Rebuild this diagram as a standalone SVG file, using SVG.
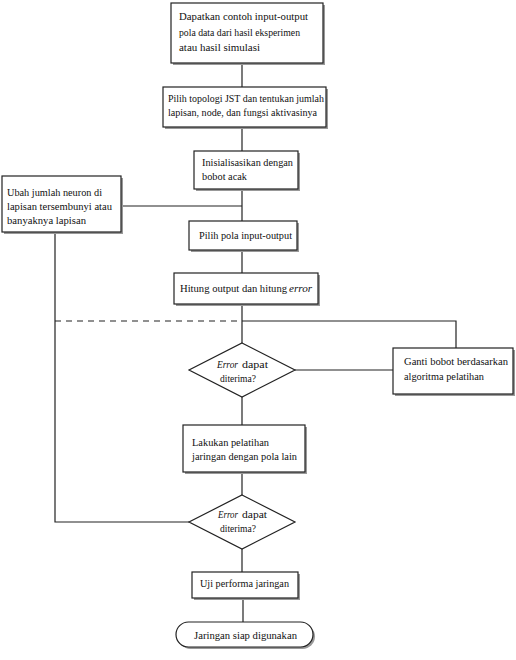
<svg xmlns="http://www.w3.org/2000/svg" width="516" height="660" viewBox="0 0 516 660">
<style>
.box{fill:#fff;stroke:#222;stroke-width:1.2}
.sh{fill:#999}
.ln{fill:none;stroke:#222;stroke-width:1.2}
text{font-family:"Liberation Serif","Times New Roman",serif;font-size:11px;fill:#111}
.i{font-style:italic}
</style>
<rect width="516" height="660" fill="#fff"/>
<g id="connectors">
<line class="ln" x1="242" y1="63" x2="242" y2="87"/>
<line class="ln" x1="242" y1="127" x2="242" y2="151"/>
<line class="ln" x1="242" y1="189" x2="242" y2="221"/>
<line class="ln" x1="121" y1="206" x2="242" y2="206"/>
<line class="ln" x1="242" y1="250" x2="242" y2="273"/>
<line class="ln" x1="242" y1="304" x2="242" y2="343"/>
<line class="ln" x1="55" y1="321" x2="242" y2="321" stroke-dasharray="6,5"/>
<polyline class="ln" points="242,321 456,321 456,348"/>
<line class="ln" x1="295" y1="370" x2="393" y2="370" stroke-width="2"/>
<line class="ln" x1="242" y1="397" x2="242" y2="425"/>
<line class="ln" x1="242" y1="472" x2="242" y2="495"/>
<polyline class="ln" points="55,232 55,522 189,522"/>
<line class="ln" x1="242" y1="549" x2="242" y2="572"/>
<line class="ln" x1="243" y1="598" x2="243" y2="622"/>
</g>
<g id="n1">
<rect class="sh" x="173" y="5" width="152" height="60"/>
<rect class="box" x="171" y="3" width="152" height="60"/>
<text x="179" y="20" textLength="129" lengthAdjust="spacingAndGlyphs">Dapatkan contoh input-output</text>
<text x="179" y="36" textLength="121" lengthAdjust="spacingAndGlyphs">pola data dari hasil eksperimen</text>
<text x="179" y="51" textLength="81" lengthAdjust="spacingAndGlyphs">atau hasil simulasi</text>
</g>
<g id="n2">
<rect class="sh" x="165" y="89" width="163" height="40"/>
<rect class="box" x="163" y="87" width="163" height="40"/>
<text x="168" y="102" textLength="156" lengthAdjust="spacingAndGlyphs">Pilih topologi JST dan tentukan jumlah</text>
<text x="168" y="116" textLength="149" lengthAdjust="spacingAndGlyphs">lapisan, node, dan fungsi aktivasinya</text>
</g>
<g id="n3">
<rect class="sh" x="196" y="153" width="104" height="38"/>
<rect class="box" x="194" y="151" width="104" height="38"/>
<text x="202" y="166" textLength="91" lengthAdjust="spacingAndGlyphs">Inisialisasikan dengan</text>
<text x="202" y="180" textLength="45" lengthAdjust="spacingAndGlyphs">bobot acak</text>
</g>
<g id="n4">
<rect class="sh" x="4" y="178" width="119" height="56"/>
<rect class="box" x="2" y="176" width="119" height="56"/>
<text x="7" y="196" textLength="95" lengthAdjust="spacingAndGlyphs">Ubah jumlah neuron di</text>
<text x="7" y="210" textLength="105" lengthAdjust="spacingAndGlyphs">lapisan tersembunyi atau</text>
<text x="7" y="224" textLength="79" lengthAdjust="spacingAndGlyphs">banyaknya lapisan</text>
</g>
<g id="n5">
<rect class="sh" x="191" y="223" width="108" height="29"/>
<rect class="box" x="189" y="221" width="108" height="29"/>
<text x="199" y="239" textLength="93" lengthAdjust="spacingAndGlyphs">Pilih pola input-output</text>
</g>
<g id="n6">
<rect class="sh" x="176" y="275" width="144" height="31"/>
<rect class="box" x="174" y="273" width="144" height="31"/>
<text x="180" y="292" textLength="107" lengthAdjust="spacingAndGlyphs">Hitung output dan hitung</text>
<text class="i" x="289" y="292" textLength="23" lengthAdjust="spacingAndGlyphs">error</text>
</g>
<g id="n7">
<polygon class="box" points="242,343 295,370 242,397 189,370"/>
<text class="i" x="217" y="368" textLength="21" lengthAdjust="spacingAndGlyphs">Error</text>
<text x="242" y="368" textLength="26" lengthAdjust="spacingAndGlyphs">dapat</text>
<text x="220" y="382" textLength="36" lengthAdjust="spacingAndGlyphs">diterima?</text>
</g>
<g id="n8">
<rect class="sh" x="395" y="350" width="120" height="46"/>
<rect class="box" x="393" y="348" width="120" height="46"/>
<text x="404" y="365" textLength="104" lengthAdjust="spacingAndGlyphs">Ganti bobot berdasarkan</text>
<text x="404" y="380" textLength="80" lengthAdjust="spacingAndGlyphs">algoritma pelatihan</text>
</g>
<g id="n9">
<rect class="sh" x="185" y="427" width="122" height="47"/>
<rect class="box" x="183" y="425" width="122" height="47"/>
<text x="192" y="446" textLength="77" lengthAdjust="spacingAndGlyphs">Lakukan pelatihan</text>
<text x="192" y="460" textLength="105" lengthAdjust="spacingAndGlyphs">jaringan dengan pola lain</text>
</g>
<g id="n10">
<polygon class="box" points="242,495 295,522 242,549 189,522"/>
<text class="i" x="218" y="518" textLength="20" lengthAdjust="spacingAndGlyphs">Error</text>
<text x="242" y="518" textLength="25" lengthAdjust="spacingAndGlyphs">dapat</text>
<text x="220" y="532" textLength="36" lengthAdjust="spacingAndGlyphs">diterima?</text>
</g>
<g id="n11">
<rect class="sh" x="194" y="574" width="106" height="26"/>
<rect class="box" x="192" y="572" width="106" height="26"/>
<text x="200" y="587" textLength="89" lengthAdjust="spacingAndGlyphs">Uji performa jaringan</text>
</g>
<g id="n12">
<rect class="sh" x="178" y="624" width="137" height="25" rx="12.5"/>
<rect class="box" x="176" y="622" width="137" height="25" rx="12.5"/>
<text x="194" y="639" textLength="103" lengthAdjust="spacingAndGlyphs">Jaringan siap digunakan</text>
</g>
</svg>
